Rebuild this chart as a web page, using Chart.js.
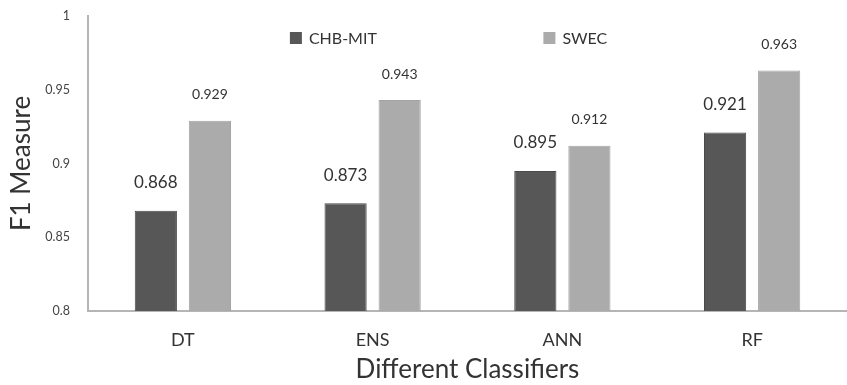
<!DOCTYPE html>
<html>
<head>
<meta charset="utf-8">
<script src="https://cdn.jsdelivr.net/npm/chart.js@4.4.1/dist/chart.umd.min.js"></script>
<style>
  html, body { margin: 0; padding: 0; background: #fff; }
  #wrap { width: 847px; height: 385px; }
</style>
</head>
<body>
<div id="wrap"><canvas id="c" width="847" height="385"></canvas></div>
<script>
// Classifiers and F1 scores per dataset
const classifiers = ['DT', 'ENS', 'ANN', 'RF'];
const chbMit = [0.868, 0.873, 0.895, 0.921];
const swec = [0.929, 0.943, 0.912, 0.963];
const yTicks = [0.8, 0.85, 0.9, 0.95, 1];

const FONT = 'Lato, "Open Sans", sans-serif';
const DARK = '#575757';
const LIGHT = '#ababab';

// Value labels above each bar
const valueLabels = {
  id: 'valueLabels',
  afterDatasetsDraw(chart) {
    const ctx = chart.ctx;
    ctx.save();
    ctx.textAlign = 'center';
    ctx.textBaseline = 'middle';
    ctx.fillStyle = '#333';
    chart.data.datasets.forEach((ds, di) => {
      const meta = chart.getDatasetMeta(di);
      const size = di === 0 ? 17 : 14;
      const gap = di === 0 ? 28 : 26;
      ctx.font = size + 'px ' + FONT;
      meta.data.forEach((bar, i) => {
        ctx.fillText(ds.data[i].toFixed(3), bar.x, bar.y - gap);
      });
    });
    ctx.restore();
  }
};

// Legend drawn inside the plot area, items spread apart
const innerLegend = {
  id: 'innerLegend',
  afterDraw(chart) {
    const ctx = chart.ctx;
    const a = chart.chartArea;
    const w = a.right - a.left;
    const spots = [0.266, 0.6];
    ctx.save();
    ctx.font = '16px ' + FONT;
    ctx.textBaseline = 'middle';
    ctx.textAlign = 'left';
    chart.data.datasets.forEach((ds, i) => {
      const x = a.left + w * spots[i];
      const y = a.top + 22;
      ctx.fillStyle = ds.backgroundColor;
      ctx.fillRect(x, y - 6, 12, 12);
      ctx.fillStyle = '#333';
      ctx.fillText(ds.label, x + 19, y + 1);
    });
    ctx.restore();
  }
};

new Chart(document.getElementById('c'), {
  type: 'bar',
  data: {
    labels: classifiers,
    datasets: [
      { label: 'CHB-MIT', data: chbMit, backgroundColor: DARK, borderColor: '#4a4a4a', borderWidth: 1 },
      { label: 'SWEC', data: swec, backgroundColor: LIGHT, borderColor: '#a4a4a4', borderWidth: 1 }
    ]
  },
  options: {
    responsive: false,
    animation: false,
    layout: { padding: { top: 16, right: 0, bottom: 0, left: 0 } },
    datasets: { bar: { categoryPercentage: 0.57, barPercentage: 0.78 } },
    plugins: { legend: { display: false }, tooltip: { enabled: false } },
    scales: {
      x: {
        grid: { display: false, drawTicks: false },
        border: { display: true, color: '#b5b5b5', width: 2 },
        ticks: { color: '#333', font: { family: FONT, size: 18 }, padding: 18 },
        title: { display: true, text: 'Different Classifiers', color: '#333',
                 font: { family: FONT, size: 26 }, padding: { top: 0, bottom: 0 } },
        afterFit(s) { s.height = 74; s.paddingLeft = 0; s.paddingRight = 0; }
      },
      y: {
        min: 0.8, max: 1,
        afterBuildTicks(s) { s.ticks = yTicks.map(v => ({ value: v })); },
        grid: { display: false, drawTicks: false },
        border: { display: true, color: '#b5b5b5', width: 2 },
        ticks: { color: '#444', font: { family: FONT, size: 12.5 }, padding: 18,
                 callback: v => String(+v.toFixed(2)) },
        title: { display: true, text: 'F1 Measure', color: '#333',
                 font: { family: FONT, size: 26 }, padding: { top: 6, bottom: 0 } },
        afterFit(s) { s.width = 88; s.paddingTop = 0; s.paddingBottom = 0; }
      }
    }
  },
  plugins: [valueLabels, innerLegend]
});
</script>
</body>
</html>
